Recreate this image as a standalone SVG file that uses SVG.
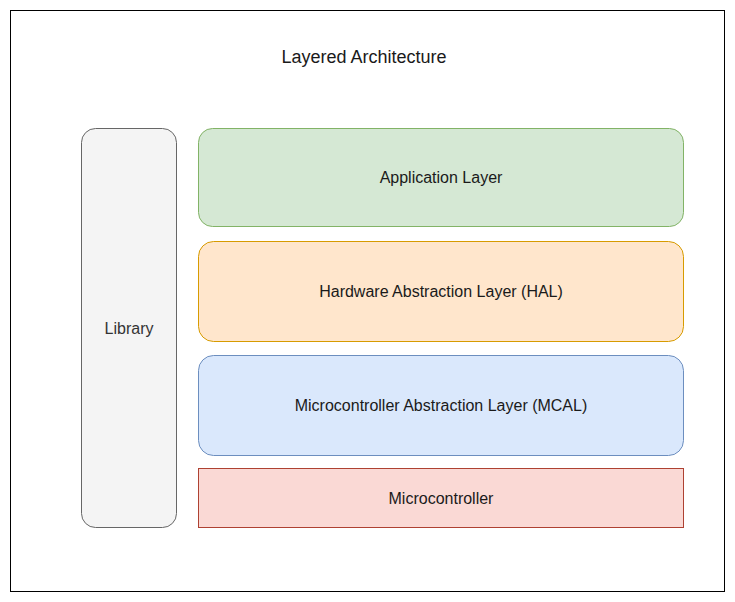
<svg xmlns="http://www.w3.org/2000/svg" width="735" height="602" viewBox="0 0 735 602">
<style>
text{font-family:"Liberation Sans",Arial,Helvetica,sans-serif;font-size:16px;fill:#1a1a1a;text-anchor:middle;dominant-baseline:central}
.b{stroke-width:1}
</style>
<rect x="0" y="0" width="735" height="602" fill="#ffffff"/>
<g id="frame">
<rect x="10.5" y="10.5" width="714" height="581" fill="#ffffff" stroke="#000000" stroke-width="1"/>
<text x="364" y="57" style="font-size:18px">Layered Architecture</text>
</g>
<g id="library">
<rect class="b" x="81.5" y="128.5" width="95" height="399" rx="14" fill="#f4f4f4" stroke="#666666"/>
<text x="129" y="328" style="fill:#333333">Library</text>
</g>
<g id="application">
<rect class="b" x="198.5" y="128.5" width="485" height="98" rx="14" fill="#d5e8d4" stroke="#82b366"/>
<text x="441" y="177">Application Layer</text>
</g>
<g id="hal">
<rect class="b" x="198.5" y="241.5" width="485" height="100" rx="15" fill="#ffe6cc" stroke="#d79b00"/>
<text x="441" y="291">Hardware Abstraction Layer (HAL)</text>
</g>
<g id="mcal">
<rect class="b" x="198.5" y="355.5" width="485" height="100" rx="15" fill="#dae8fc" stroke="#6c8ebf"/>
<text x="441" y="405">Microcontroller Abstraction Layer (MCAL)</text>
</g>
<g id="microcontroller">
<rect class="b" x="198.5" y="468.5" width="485" height="59" fill="#fad9d5" stroke="#ae4132"/>
<text x="441" y="498">Microcontroller</text>
</g>
<g id="connectors"></g>
</svg>
